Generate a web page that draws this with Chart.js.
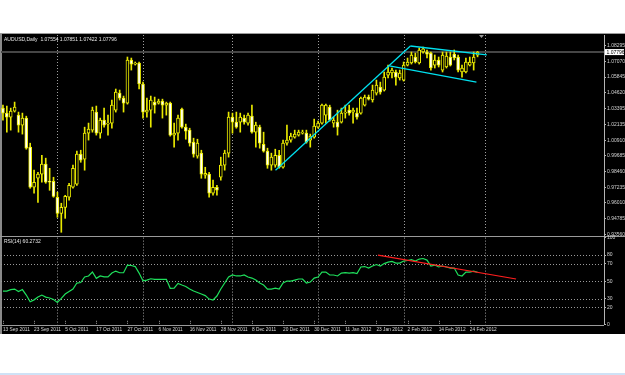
<!DOCTYPE html>
<html><head><meta charset="utf-8">
<script src="https://cdn.jsdelivr.net/npm/chart.js@4.4.1/dist/chart.umd.min.js"></script>
<style>
html,body{margin:0;padding:0;background:#fff;width:625px;height:375px;overflow:hidden;}
.abs{position:absolute;}
#black{left:0;top:34px;width:625px;height:300px;background:#000;}
#topline{left:0;top:33px;width:625px;height:1px;background:#9c9c9c;}
#leftline{left:0;top:34px;width:2px;height:300px;background:#8a8a8a;}
#sep1{left:0;top:236px;width:625px;height:1px;background:#9a9a9a;}
#sep2{left:0;top:325px;width:604px;height:1px;background:#9a9a9a;}
#tabs{left:0;top:373px;width:625px;height:2px;background:#cfe2f6;}
#main{left:0;top:28px;}
#rsi{left:0;top:232px;}
</style></head>
<body>
<div id="black" class="abs"></div>
<div id="topline" class="abs"></div>
<div id="leftline" class="abs"></div>
<div id="sep1" class="abs"></div>
<div id="sep2" class="abs"></div>
<div id="tabs" class="abs"></div>
<canvas id="main" class="abs" width="625" height="214"></canvas>
<canvas id="rsi" class="abs" width="625" height="104"></canvas>
<script>
const symbolTitle = 'AUDUSD,Daily';
const dateLabels = ['13 Sep 2011','23 Sep 2011','5 Oct 2011','17 Oct 2011','27 Oct 2011','6 Nov 2011','16 Nov 2011','28 Nov 2011','8 Dec 2011','20 Dec 2011','30 Dec 2011','11 Jan 2012','23 Jan 2012','2 Feb 2012','14 Feb 2012','24 Feb 2012'];
const priceTicks = ['1.08295','1.07070','1.05845','1.04620','1.03395','1.02135','1.00910','0.99685','0.98460','0.97235','0.96010','0.94785','0.93560'];
const rsiTicks = [100,80,70,50,30,20,0];
const rsiLevels = [80,70,50,30,20];
const monthStarts = [14,36,59,81,103,124];

const open = [
1.0342,1.0303,1.0272,1.0318,1.0287,1.0209,1.0264,1.0037,0.9724,0.9794,
0.9826,0.9904,0.9771,0.9771,0.9646,0.9520,0.9567,0.9646,0.9724,0.9747,
0.9982,0.9943,1.0146,1.0170,1.0311,1.0146,1.0248,1.0217,1.0225,1.0326,
1.0459,1.0420,1.0381,1.0718,1.0686,1.0694,1.0530,1.0311,1.0326,1.0389,
1.0381,1.0397,1.0365,1.0381,1.0131,1.0146,1.0334,1.0193,1.0170,1.0076,
0.9966,0.9990,0.9818,0.9826,0.9677,0.9724,0.9802,0.9896,0.9990,1.0272,
1.0232,1.0232,1.0264,1.0225,1.0279,1.0154,1.0193,1.0060,1.0006,0.9896,
0.9896,0.9974,0.9880,1.0068,1.0092,1.0115,1.0131,1.0146,1.0146,1.0092,
1.0115,1.0193,1.0225,1.0287,1.0350,1.0225,1.0232,1.0232,1.0303,1.0326,
1.0311,1.0303,1.0303,1.0365,1.0428,1.0405,1.0459,1.0506,1.0483,1.0600,
1.0616,1.0624,1.0577,1.0561,1.0678,1.0694,1.0741,1.0694,1.0780,1.0780,
1.0772,1.0678,1.0718,1.0639,1.0663,1.0741,1.0764,1.0741,1.0624,1.0624,
1.0678,1.0694,1.07554];
const high = [
1.0365,1.0358,1.0342,1.0389,1.0311,1.0303,1.0279,1.0068,0.9857,0.9841,
0.9974,0.9951,0.9872,0.9802,0.9685,0.9599,0.9661,0.9755,0.9896,1.0006,
1.0013,1.0193,1.0225,1.0350,1.0358,1.0264,1.0342,1.0287,1.0405,1.0491,
1.0483,1.0436,1.0741,1.0733,1.0702,1.0702,1.0545,1.0420,1.0436,1.0428,
1.0412,1.0412,1.0389,1.0389,1.0225,1.0287,1.0342,1.0217,1.0185,1.0107,
1.0099,1.0013,0.9880,0.9841,0.9779,0.9739,0.9959,1.0013,1.0311,1.0303,
1.0311,1.0303,1.0287,1.0303,1.0365,1.0232,1.0209,1.0154,1.0029,0.9990,
1.0021,1.0013,1.0092,1.0209,1.0146,1.0170,1.0170,1.0170,1.0170,1.0139,
1.0256,1.0240,1.0373,1.0373,1.0365,1.0272,1.0326,1.0342,1.0365,1.0365,
1.0342,1.0342,1.0428,1.0444,1.0444,1.0522,1.0561,1.0545,1.0624,1.0678,
1.0655,1.0639,1.0639,1.0702,1.0733,1.0780,1.0772,1.0811,1.0819,1.0796,
1.0780,1.0757,1.0741,1.0780,1.0780,1.0780,1.0796,1.0757,1.0678,1.0733,
1.0741,1.0780,1.07851];
const low = [
1.0248,1.0154,1.0170,1.0311,1.0154,1.0139,1.0021,0.9716,0.9677,0.9606,
0.9763,0.9755,0.9700,0.9646,0.9489,0.9372,0.9481,0.9622,0.9716,0.9739,
0.9919,0.9857,1.0092,1.0154,1.0131,1.0107,1.0193,1.0131,1.0185,1.0311,
1.0405,1.0311,1.0373,1.0639,1.0678,1.0491,1.0264,1.0272,1.0193,1.0303,
1.0373,1.0264,1.0287,1.0123,1.0037,1.0092,1.0185,1.0099,1.0045,0.9959,
0.9951,0.9794,0.9794,0.9646,0.9661,0.9661,0.9779,0.9857,0.9959,1.0146,
1.0185,1.0154,1.0217,1.0209,1.0146,1.0037,1.0029,0.9998,0.9872,0.9857,
0.9880,0.9872,0.9872,1.0052,1.0076,1.0107,1.0123,1.0139,1.0068,1.0037,
1.0107,1.0185,1.0217,1.0225,1.0240,1.0193,1.0131,1.0225,1.0264,1.0287,
1.0225,1.0256,1.0295,1.0358,1.0405,1.0389,1.0444,1.0451,1.0475,1.0577,
1.0577,1.0522,1.0561,1.0553,1.0671,1.0686,1.0694,1.0686,1.0772,1.0733,
1.0639,1.0655,1.0663,1.0624,1.0655,1.0671,1.0718,1.0624,1.0584,1.0616,
1.0671,1.0639,1.07422];
const close = [
1.0303,1.0272,1.0318,1.0350,1.0209,1.0264,1.0029,0.9724,0.9763,0.9826,
0.9904,0.9763,0.9763,0.9653,0.9520,0.9567,0.9653,0.9739,0.9872,0.9982,
0.9935,1.0146,1.0178,1.0326,1.0146,1.0248,1.0209,1.0225,1.0365,1.0467,
1.0420,1.0381,1.0718,1.0686,1.0694,1.0530,1.0311,1.0326,1.0405,1.0365,
1.0397,1.0365,1.0381,1.0131,1.0146,1.0264,1.0193,1.0162,1.0068,0.9982,
1.0068,0.9826,0.9833,0.9677,0.9724,0.9700,0.9896,0.9990,1.0272,1.0232,
1.0193,1.0272,1.0232,1.0287,1.0154,1.0209,1.0068,1.0006,0.9896,0.9959,
0.9974,0.9880,1.0068,1.0092,1.0123,1.0139,1.0154,1.0154,1.0076,1.0123,
1.0201,1.0225,1.0365,1.0365,1.0248,1.0248,1.0193,1.0303,1.0311,1.0303,
1.0326,1.0272,1.0420,1.0428,1.0412,1.0483,1.0522,1.0467,1.0584,1.0624,
1.0639,1.0584,1.0616,1.0678,1.0702,1.0757,1.0702,1.0796,1.0804,1.0764,
1.0655,1.0718,1.0678,1.0757,1.0749,1.0678,1.0733,1.0639,1.0655,1.0702,
1.0702,1.0741,1.07796];
const rsi = [
38.7,38.7,40.4,41,38.2,40.4,34.1,26.5,28.6,31.8,
34.1,31.8,30.7,29,25.7,30.3,35.3,38.2,41,47.9,
48.5,54.8,56,60.5,53.3,56,55,55,59.3,61.6,
59.7,59.7,68.5,68,66.8,59.3,50.5,51.3,52.8,52.1,
52.1,52.1,52.1,41.8,42.1,47.5,45.6,43.9,41,38.7,
37,35.3,33.5,29.5,28.4,33,41,47.9,54.8,57.1,
56,56,57.1,54.8,53.6,51.3,47.9,45.6,41,41,
42.1,41,47.9,50.2,50.2,51.3,52.5,52.5,47.9,49,
53.6,54.8,60.5,60.5,57.1,57.1,56,59.3,59.9,59.3,
59.9,58.8,66.3,66.8,65.1,67.4,69.1,67.4,70.2,71.9,
72.6,70.8,70.8,73.1,73.7,74.8,73.1,75.4,76,74.2,
67.4,68.5,66.3,67.4,66.3,65.1,65.1,57.1,56,60.5,
60.5,61.6,60.2732];

// trend lines (bar index, price / RSI value)
const channelUp = [{x:69.2,y:0.9857},{x:108.2,y:1.0827}];
const channelTop = [{x:108.2,y:1.0827},{x:130.3,y:1.0757}];
const channelBottom = [{x:102.1,y:1.0671},{x:127.3,y:1.0545}];
const rsiTrend = [{x:96.4,y:80},{x:131.9,y:52.5}];

const SLOTS = 155;
const DATE_STEP = 8;
const FONT = "'Liberation Sans', Arial, sans-serif";

const slotLabels = Array.from({length:SLOTS}, (_, i) =>
  (i % DATE_STEP === 0 && i / DATE_STEP < dateLabels.length) ? dateLabels[i / DATE_STEP] : '');
const last = close.length - 1;

const common = {
  responsive:false, animation:false, devicePixelRatio:1, events:[],
  plugins:{legend:{display:false}, tooltip:{enabled:false}, title:{display:false}}
};

function drawSeparators(chart){
  const xs = chart.scales.x, a = chart.chartArea, ctx = chart.ctx;
  ctx.save();
  ctx.strokeStyle = '#a0a0a0'; ctx.lineWidth = 1; ctx.setLineDash([1,2]);
  monthStarts.forEach(i => {
    const x = Math.round(xs.getPixelForValue(i)) + 0.5;
    ctx.beginPath(); ctx.moveTo(x, a.top); ctx.lineTo(x, a.bottom); ctx.stroke();
  });
  ctx.restore();
}

const mainDeco = {
  id:'mainDeco',
  beforeDatasetsDraw(chart){
    const ctx = chart.ctx, a = chart.chartArea, ys = chart.scales.y;
    drawSeparators(chart);
    const y = ys.getPixelForValue(close[last]);
    ctx.save();
    ctx.strokeStyle = '#464646'; ctx.lineWidth = 2;
    ctx.beginPath(); ctx.moveTo(a.left, y); ctx.lineTo(a.right, y); ctx.stroke();
    ctx.restore();
  },
  afterDraw(chart){
    const ctx = chart.ctx, a = chart.chartArea, ys = chart.scales.y, xs = chart.scales.x;
    ctx.save();
    ctx.font = '5px ' + FONT; ctx.fillStyle = '#e6e6e6'; ctx.textBaseline = 'middle';
    ctx.fillText(symbolTitle + '  ' + open[last].toFixed(5) + ' ' + high[last].toFixed(5) + ' ' + low[last].toFixed(5) + ' ' + close[last].toFixed(5), 4, a.top + 4.5);
    const y = ys.getPixelForValue(close[last]);
    ctx.fillStyle = '#ffffff';
    ctx.fillRect(a.right + 1, y - 3, 19, 6);
    ctx.fillStyle = '#000000';
    ctx.fillText(close[last].toFixed(5), a.right + 2.5, y + 0.3);
    // chart shift marker
    const sx = xs.getPixelForValue(last + 1);
    ctx.fillStyle = '#9a9a9a';
    ctx.beginPath(); ctx.moveTo(sx - 2.5, a.top); ctx.lineTo(sx + 2.5, a.top); ctx.lineTo(sx, a.top + 3); ctx.closePath(); ctx.fill();
    ctx.restore();
  }
};

const rsiDeco = {
  id:'rsiDeco',
  beforeDatasetsDraw(chart){
    const ctx = chart.ctx, a = chart.chartArea, ys = chart.scales.y, xs = chart.scales.x;
    ctx.save();
    ctx.strokeStyle = '#9a9a9a'; ctx.lineWidth = 1; ctx.setLineDash([1,2]);
    rsiLevels.forEach(v => {
      const y = Math.round(ys.getPixelForValue(v)) + 0.5;
      ctx.beginPath(); ctx.moveTo(a.left, y); ctx.lineTo(a.right, y); ctx.stroke();
    });
    ctx.restore();
    drawSeparators(chart);
    ctx.save();
    ctx.strokeStyle = '#9a9a9a'; ctx.lineWidth = 1; ctx.setLineDash([1,1]);
    slotLabels.forEach((l, i) => {
      if (!l) return;
      const x = Math.round(xs.getPixelForValue(i)) + 0.5;
      ctx.beginPath(); ctx.moveTo(x, a.bottom - 4); ctx.lineTo(x, a.bottom); ctx.stroke();
    });
    ctx.restore();
  },
  afterDraw(chart){
    const ctx = chart.ctx, a = chart.chartArea;
    ctx.save();
    ctx.font = '5px ' + FONT; ctx.fillStyle = '#e6e6e6'; ctx.textBaseline = 'middle';
    ctx.fillText('RSI(14) ' + rsi[last].toFixed(4), 4, a.top + 4.5);
    ctx.restore();
  }
};

const bodyColors = open.map((o, i) => close[i] >= o ? '#000000' : '#ffffff');

new Chart(document.getElementById('main'), {
  type:'bar',
  data:{
    labels: slotLabels,
    datasets:[
      {type:'bar', data: low.map((l, i) => [l, high[i]]), backgroundColor:'#e8e800', barThickness:1, grouped:false, order:5},
      {type:'bar', data: open.map((o, i) => [o, close[i]]), backgroundColor: bodyColors, borderColor:'#f0f000', borderWidth:1, borderSkipped:false, barThickness:3, minBarLength:1, grouped:false, order:4},
      {type:'line', xAxisID:'xl', data: channelUp, borderColor:'#00e1ef', borderWidth:1.3, pointRadius:0, order:1},
      {type:'line', xAxisID:'xl', data: channelTop, borderColor:'#00e1ef', borderWidth:1.3, pointRadius:0, order:1},
      {type:'line', xAxisID:'xl', data: channelBottom, borderColor:'#00e1ef', borderWidth:1.3, pointRadius:0, order:1}
    ]
  },
  options:Object.assign({}, common, {
    layout:{padding:{left:1, right:0, top:7, bottom:6}},
    scales:{
      x:{type:'category', offset:true, display:false},
      xl:{type:'linear', min:-0.5, max:SLOTS - 0.5, display:false},
      y:{
        position:'right', min:0.9343, max:1.0913, bounds:'data',
        afterBuildTicks(s){ s.ticks = priceTicks.map(t => ({value: parseFloat(t)})); },
        afterFit(s){ s.width = 21; s.paddingTop = 0; s.paddingBottom = 0; },
        ticks:{autoSkip:false, padding:1, color:'#d2d2d2', font:{size:5, family:FONT},
          callback(v){ const t = priceTicks.find(p => Math.abs(parseFloat(p) - v) < 1e-9); return t || ''; }},
        grid:{drawOnChartArea:false, drawTicks:true, tickLength:2, color:'#b4b4b4'},
        border:{display:true, color:'#b4b4b4', width:1}
      }
    }
  }),
  plugins:[mainDeco]
});

new Chart(document.getElementById('rsi'), {
  type:'line',
  data:{
    labels: slotLabels,
    datasets:[
      {data: rsi, borderColor:'#1fe05c', borderWidth:1.2, pointRadius:0, tension:0, order:2},
      {xAxisID:'xl', data: rsiTrend, borderColor:'#ff1e1e', borderWidth:1.2, pointRadius:0, order:1}
    ]
  },
  options:Object.assign({}, common, {
    layout:{padding:{left:1, right:0, top:5.6, bottom:0}},
    scales:{
      x:{type:'category', offset:true,
        afterFit(s){ s.height = 11.2; s.paddingLeft = 0; s.paddingRight = 0; },
        grid:{display:false, drawTicks:false}, border:{display:false},
        ticks:{autoSkip:false, maxRotation:0, minRotation:0, align:'start', padding:2.2, color:'#d8d8d8', font:{size:4.8, family:FONT}}},
      xl:{type:'linear', min:-0.5, max:SLOTS - 0.5, display:false},
      y:{
        position:'right', min:0, max:100, bounds:'data',
        afterBuildTicks(s){ s.ticks = rsiTicks.map(v => ({value:v})); },
        afterFit(s){ s.width = 21; s.paddingTop = 0; s.paddingBottom = 0; },
        ticks:{autoSkip:false, padding:1, color:'#d2d2d2', font:{size:5, family:FONT}},
        grid:{drawOnChartArea:false, drawTicks:true, tickLength:2, color:'#b4b4b4'},
        border:{display:true, color:'#b4b4b4', width:1}
      }
    }
  }),
  plugins:[rsiDeco]
});
</script>
</body></html>
